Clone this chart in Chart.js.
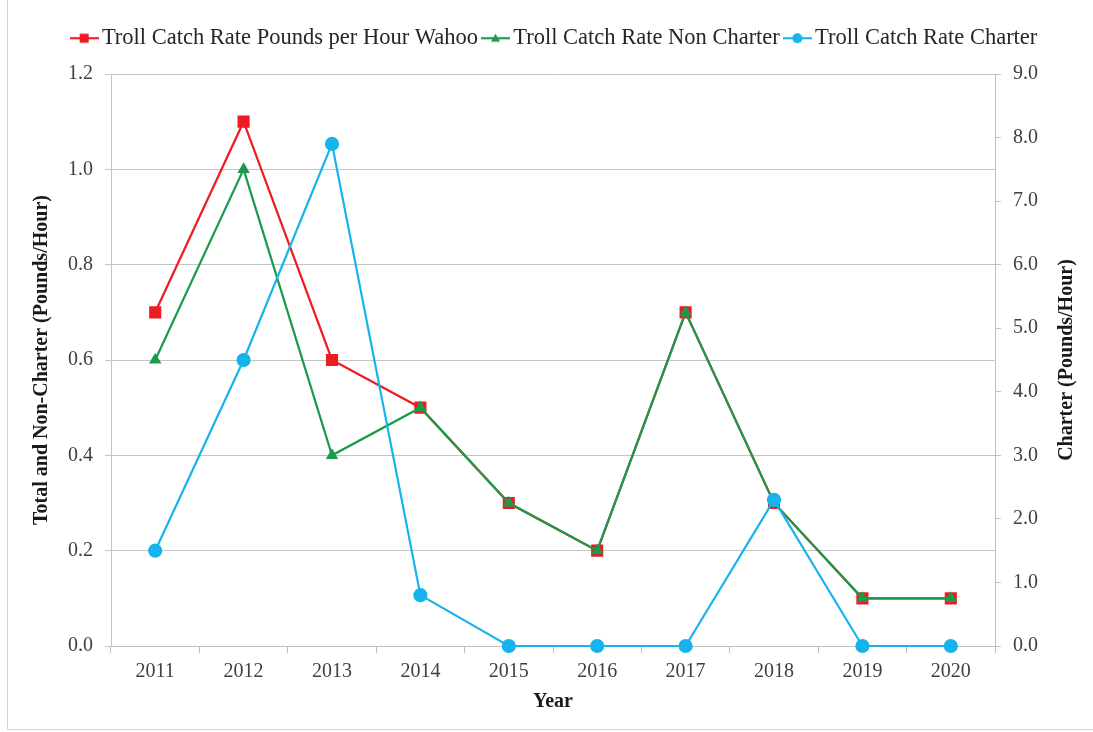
<!DOCTYPE html>
<html>
<head>
<meta charset="utf-8">
<title>Troll Catch Rate - Wahoo</title>
<script src="https://cdn.jsdelivr.net/npm/chart.js@4"></script>
<style>
    body { margin: 0; background: #fff; }
    #wrap { position: relative; width: 1093px; height: 732px; }
    #frame { position: absolute; left: 7px; top: 0; width: 1086px; height: 729px;
             border-left: 1px solid #d6d6d6; border-bottom: 1px solid #d6d6d6; }
    canvas { position: absolute; left: 0; top: 0; }
</style>
</head>
<body>
<div id="wrap">
    <div id="frame"></div>
    <canvas id="catchChart" width="1093" height="732"></canvas>
</div>
<script>
// ============================
// DATA
// ============================
const years = ["2011", "2012", "2013", "2014", "2015", "2016", "2017", "2018", "2019", "2020"];
const totalRate = [0.7, 1.1, 0.6, 0.5, 0.3, 0.2, 0.7, 0.3, 0.1, 0.1];
const nonCharterRate = [0.6, 1.0, 0.4, 0.5, 0.3, 0.2, 0.7, 0.3, 0.1, 0.1];
const charterRate = [1.5, 4.5, 7.9, 0.8, 0, 0, 0, 2.3, 0, 0];

const seriesNames = [
    "Troll Catch Rate Pounds per Hour Wahoo",
    "Troll Catch Rate Non Charter",
    "Troll Catch Rate Charter"
];
const leftTitle = "Total and Non-Charter (Pounds/Hour)";
const rightTitle = "Charter (Pounds/Hour)";
const xTitle = "Year";

const RED = "#ec1c22";
const GREEN = "#1b9a4c";
const BLUE = "#16b3ec";
const FONT = "'Liberation Serif', 'Times New Roman', serif";

// small line + marker picture for the legend
function legendIcon(color, shape) {
    const c = document.createElement("canvas");
    c.width = 29;
    c.height = 14;
    const g = c.getContext("2d");
    g.strokeStyle = color;
    g.fillStyle = color;
    g.lineWidth = 2.2;
    g.beginPath();
    g.moveTo(0, 7);
    g.lineTo(29, 7);
    g.stroke();
    g.beginPath();
    if (shape === "rect") {
        g.rect(10, 2.5, 9, 9);
    } else if (shape === "triangle") {
        g.moveTo(14.5, 2.5);
        g.lineTo(19, 10.5);
        g.lineTo(10, 10.5);
        g.closePath();
    } else {
        g.arc(14.5, 7, 5, 0, Math.PI * 2);
    }
    g.fill();
    return c;
}

const icons = [legendIcon(RED, "rect"), legendIcon(GREEN, "triangle"), legendIcon(BLUE, "circle")];

// fix the legend band height so the plot top sits where the reference has it
const legendBand = {
    id: "legendBand",
    afterInit(chart) {
        const legend = chart.legend;
        const fit = legend.fit.bind(legend);
        legend.fit = () => {
            fit();
            legend.height = 58;
        };
    }
};

// right title reads bottom-to-top like the left one
const rightTitlePlugin = {
    id: "rightTitle",
    afterDraw(chart) {
        const ctx = chart.ctx;
        const area = chart.chartArea;
        ctx.save();
        ctx.translate(1067, (area.top + area.bottom) / 2);
        ctx.rotate(-Math.PI / 2);
        ctx.font = "bold 20px " + FONT;
        ctx.fillStyle = "#1a1a1a";
        ctx.textAlign = "center";
        ctx.textBaseline = "middle";
        ctx.fillText(rightTitle, 0, 0);
        ctx.restore();
    }
};

document.addEventListener("DOMContentLoaded", () => {
    const ctx = document.getElementById("catchChart");

    new Chart(ctx, {
        type: "line",
        data: {
            labels: years,
            datasets: [
                {
                    label: seriesNames[0],
                    data: totalRate,
                    yAxisID: "y",
                    borderColor: RED,
                    backgroundColor: RED,
                    pointStyle: "rect",
                    pointRadius: 7,
                    borderWidth: 2.2,
                    order: 3
                },
                {
                    label: seriesNames[1],
                    data: nonCharterRate,
                    yAxisID: "y",
                    borderColor: GREEN,
                    backgroundColor: GREEN,
                    pointStyle: "triangle",
                    pointRadius: 5,
                    borderWidth: 2.2,
                    order: 2
                },
                {
                    label: seriesNames[2],
                    data: charterRate,
                    yAxisID: "y1",
                    borderColor: BLUE,
                    backgroundColor: BLUE,
                    pointStyle: "circle",
                    pointRadius: 6,
                    borderWidth: 2.2,
                    order: 1
                }
            ]
        },
        options: {
            responsive: false,
            animation: false,
            devicePixelRatio: 1,
            layout: { padding: { top: 16, left: 22, right: 0, bottom: 0 } },
            elements: {
                line: { tension: 0 },
                point: { borderWidth: 0, hoverRadius: 7 }
            },
            datasets: { line: { clip: false } },
            plugins: {
                legend: {
                    position: "top",
                    labels: {
                        usePointStyle: true,
                        pointStyleWidth: 13,
                        padding: 11,
                        color: "#262626",
                        font: { family: FONT, size: 22.5 },
                        generateLabels: (chart) => chart.data.datasets.map((ds, i) => ({
                            text: ds.label,
                            pointStyle: icons[i],
                            fillStyle: ds.borderColor,
                            strokeStyle: ds.borderColor,
                            lineWidth: 0,
                            fontColor: "#262626",
                            hidden: !chart.isDatasetVisible(i),
                            datasetIndex: i
                        }))
                    }
                },
                tooltip: { enabled: false }
            },
            scales: {
                x: {
                    offset: true,
                    grid: {
                        offset: true,
                        drawOnChartArea: false,
                        tickLength: 7,
                        color: "#bfbfbf"
                    },
                    border: { color: "#bfbfbf" },
                    ticks: {
                        color: "#404040",
                        padding: 7,
                        maxRotation: 0,
                        font: { family: FONT, size: 20 }
                    },
                    title: {
                        display: true,
                        text: xTitle,
                        color: "#1a1a1a",
                        padding: { top: 0, bottom: 18 },
                        font: { family: FONT, size: 20, weight: "bold" }
                    },
                    afterFit: (scale) => { scale.height = 86; }
                },
                y: {
                    position: "left",
                    min: 0,
                    max: 1.2,
                    ticks: {
                        stepSize: 0.2,
                        color: "#404040",
                        padding: 12,
                        font: { family: FONT, size: 20 },
                        callback: (v) => Number(v).toFixed(1)
                    },
                    grid: { color: "#c4c4c4", tickLength: 6 },
                    border: { color: "#c4c4c4" },
                    title: {
                        display: true,
                        text: leftTitle,
                        color: "#1a1a1a",
                        padding: { top: 8, bottom: 0 },
                        font: { family: FONT, size: 20, weight: "bold" }
                    },
                    afterFit: (scale) => { scale.width = 89; }
                },
                y1: {
                    position: "right",
                    min: 0,
                    max: 9,
                    ticks: {
                        stepSize: 1,
                        color: "#404040",
                        padding: 12,
                        font: { family: FONT, size: 20 },
                        callback: (v) => Number(v).toFixed(1)
                    },
                    grid: { drawOnChartArea: false, color: "#c4c4c4", tickLength: 6 },
                    border: { color: "#bfbfbf" },
                    afterFit: (scale) => { scale.width = 98; }
                }
            }
        },
        plugins: [legendBand, rightTitlePlugin]
    });
});
</script>
</body>
</html>
